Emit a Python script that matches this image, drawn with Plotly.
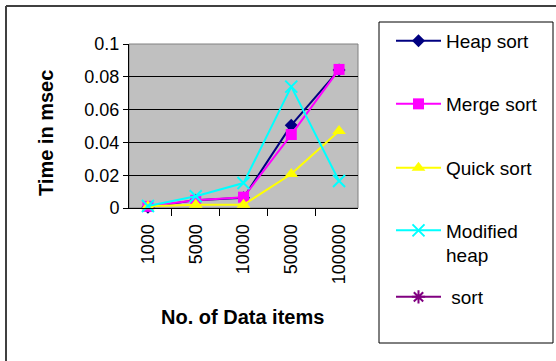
import plotly.graph_objects as go

categories = ["1000", "5000", "10000", "50000", "100000"]
heap_sort = [0.0005, 0.0048, 0.0062, 0.0505, 0.0842]
merge_sort = [0.001, 0.0047, 0.0066, 0.0448, 0.0845]
quick_sort = [0.001, 0.002, 0.002, 0.0207, 0.0469]
modified_heap = [0.0012, 0.0072, 0.0152, 0.074, 0.0165]
sort_series = [None, None, None, None, None]

series = [
    ("Heap sort", heap_sort, "#000080", "diamond", 10, "legend"),
    ("Merge sort", merge_sort, "#FF00FF", "square", 11, "legend2"),
    ("Quick sort", quick_sort, "#FFFF00", "triangle-up", 12, "legend3"),
    ("Modified<br>heap", modified_heap, "#00FFFF", "x-thin-open", 12, "legend4"),
    (" sort", sort_series, "#800080", "asterisk-open", 11, "legend5"),
]

fig = go.Figure()
for name, vals, color, sym, size, lg in series:
    marker = dict(symbol=sym, size=size, color=color)
    if sym.endswith("open"):
        marker["line"] = dict(color=color, width=2)
    fig.add_trace(go.Scatter(
        x=categories, y=vals, name=name, mode="lines+markers",
        line=dict(color=color, width=2), marker=marker,
        cliponaxis=False, legend=lg, showlegend=True,
    ))

W, H = 556, 361
L, R, T, B = 129, 198, 44, 153
pw, ph = W - L - R, H - T - B

def px2x(px):
    return (px - L) / pw

def py2y(py):
    return (H - B - py) / ph

leg_font = dict(family="Liberation Sans, Arial, sans-serif", size=19, color="black")
leg_common = dict(x=px2x(391), xanchor="left", yanchor="middle", bgcolor="rgba(0,0,0,0)",
                  borderwidth=0, font=leg_font, itemwidth=45, valign="top")

fig.update_layout(
    width=W, height=H,
    margin=dict(l=L, r=R, t=T, b=B),
    paper_bgcolor="white",
    plot_bgcolor="#C0C0C0",
    showlegend=True,
    font=dict(family="Liberation Sans, Arial, sans-serif", color="black"),
    legend=dict(y=py2y(41), **leg_common),
    legend2=dict(y=py2y(104), **leg_common),
    legend3=dict(y=py2y(168), **leg_common),
    legend4=dict(y=py2y(243), **leg_common),
    legend5=dict(y=py2y(297), **leg_common),
    xaxis=dict(
        type="category", tickangle=-90, tickson="boundaries",
        ticks="outside", ticklen=7, tickcolor="black", tickwidth=1,
        showline=True, linecolor="black", linewidth=1,
        showgrid=False, tickfont=dict(size=18), ticklabelstandoff=8,
        fixedrange=True,
    ),
    yaxis=dict(
        range=[0, 0.1], tickvals=[0, 0.02, 0.04, 0.06, 0.08, 0.1],
        ticktext=["0", "0.02", "0.04", "0.06", "0.08", "0.1"],
        ticks="outside", ticklen=5, tickcolor="black",
        showline=True, linecolor="black", linewidth=1,
        showgrid=True, gridcolor="black", gridwidth=1,
        zeroline=False, tickfont=dict(size=18), fixedrange=True,
    ),
    shapes=[
        dict(type="rect", xref="paper", yref="paper", x0=0, x1=1, y0=0, y1=1,
             line=dict(color="#808080", width=1), layer="below"),
        dict(type="rect", xref="paper", yref="paper",
             x0=px2x(379), x1=px2x(553), y0=py2y(22), y1=py2y(343),
             line=dict(color="black", width=1)),
        dict(type="line", xref="paper", yref="paper",
             x0=px2x(6), x1=px2x(6), y0=py2y(6), y1=py2y(370),
             line=dict(color="#404040", width=2)),
        dict(type="line", xref="paper", yref="paper",
             x0=px2x(6), x1=px2x(570), y0=py2y(6), y1=py2y(6),
             line=dict(color="#404040", width=2)),
    ],
    annotations=[
        dict(text="<b>Time in msec</b>", xref="paper", yref="paper",
             x=px2x(46), y=py2y(133), textangle=-90, showarrow=False,
             font=dict(size=20), xanchor="center", yanchor="middle"),
        dict(text="<b>No. of Data items</b>", xref="paper", yref="paper",
             x=px2x(242), y=py2y(317), showarrow=False,
             font=dict(size=20), xanchor="center", yanchor="middle"),
    ],
)

fig.write_html("out.html", config={"displayModeBar": False},
               post_script="document.body.style.margin='0';")
